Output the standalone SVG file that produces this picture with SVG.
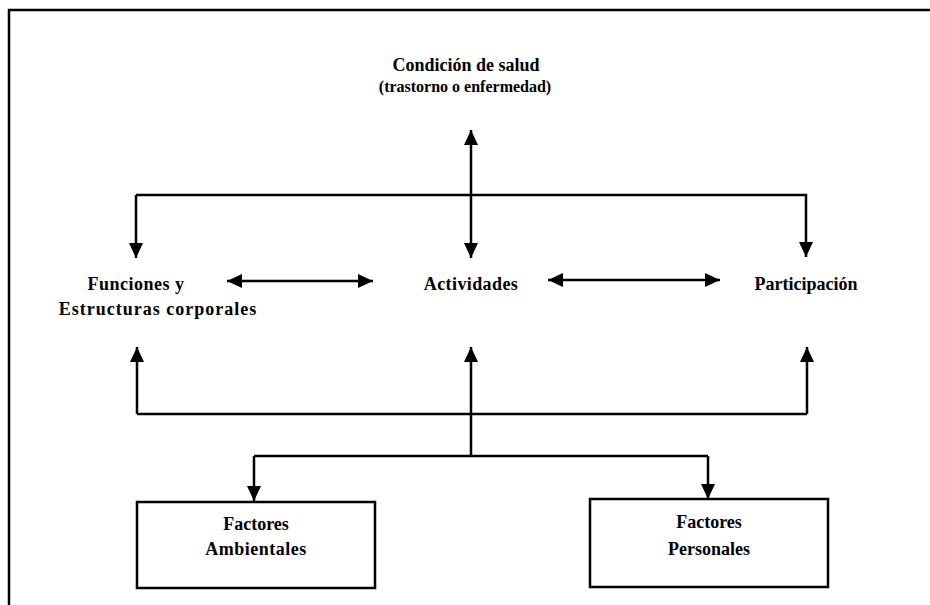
<svg xmlns="http://www.w3.org/2000/svg" width="930" height="605" viewBox="0 0 930 605">
<style>
  .t{font-family:'Liberation Serif','Times New Roman',serif;fill:#000;text-anchor:middle;font-weight:bold}
  .lg{font-size:18px}
  .sm{font-size:16px}
  .ln{stroke:#000;stroke-width:2.5;fill:none}
  .box{stroke:#000;stroke-width:2.5;fill:#fff}
</style>
<defs>
  <marker id="ah" markerUnits="userSpaceOnUse" markerWidth="16" markerHeight="16" viewBox="0 0 16 16" refX="15" refY="8" orient="auto-start-reverse">
    <path d="M0,1 L15,8 L0,15 Z" fill="#000"/>
  </marker>
</defs>
<rect width="930" height="605" fill="#fff"/>
<g id="frame">
  <path d="M9,605 L9,10 L930,10" class="ln"/>
</g>
<g id="connectors">
  <line x1="471" y1="130" x2="471" y2="258" class="ln" marker-start="url(#ah)" marker-end="url(#ah)"/>
  <path d="M136,195 L806,195 L806,257" class="ln" marker-end="url(#ah)"/>
  <line x1="136" y1="195" x2="136" y2="258" class="ln" marker-end="url(#ah)"/>
  <line x1="227" y1="281" x2="373" y2="281" class="ln" marker-start="url(#ah)" marker-end="url(#ah)"/>
  <line x1="548" y1="280" x2="720" y2="280" class="ln" marker-start="url(#ah)" marker-end="url(#ah)"/>
  <path d="M137,414 L807,414" class="ln"/>
  <line x1="137" y1="414" x2="137" y2="347" class="ln" marker-end="url(#ah)"/>
  <line x1="807" y1="414" x2="807" y2="347" class="ln" marker-end="url(#ah)"/>
  <line x1="471" y1="456" x2="471" y2="347" class="ln" marker-end="url(#ah)"/>
  <path d="M254,456 L708,456" class="ln"/>
  <line x1="254" y1="456" x2="254" y2="501" class="ln" marker-end="url(#ah)"/>
  <line x1="708" y1="456" x2="708" y2="499" class="ln" marker-end="url(#ah)"/>
</g>
<g id="condicion">
  <text class="t lg" x="466" y="71">Condición de salud</text>
  <text class="t sm" x="465" y="92">(trastorno o enfermedad)</text>
</g>
<g id="funciones">
  <text class="t lg" x="136" y="290" letter-spacing="0.5">Funciones y</text>
  <text class="t lg" x="158" y="315" letter-spacing="1">Estructuras corporales</text>
</g>
<g id="actividades">
  <text class="t lg" x="471" y="290" letter-spacing="0.4">Actividades</text>
</g>
<g id="participacion">
  <text class="t lg" x="806" y="290">Participación</text>
</g>
<g id="ambientales">
  <rect x="137" y="502" width="238" height="86" class="box"/>
  <text class="t lg" x="256" y="530">Factores</text>
  <text class="t lg" x="256" y="555" letter-spacing="0.5">Ambientales</text>
</g>
<g id="personales">
  <rect x="590" y="499" width="238" height="88" class="box"/>
  <text class="t lg" x="709" y="528">Factores</text>
  <text class="t lg" x="709" y="555">Personales</text>
</g>
</svg>
